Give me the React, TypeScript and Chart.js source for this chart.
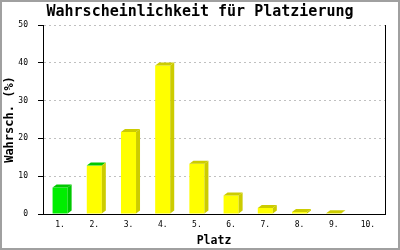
import React, { useEffect, useRef } from "react";
import { Chart, registerables } from "chart.js";

Chart.register(...registerables);

const categories = ["1.", "2.", "3.", "4.", "5.", "6.", "7.", "8.", "9.", "10."];
const values = [7.0, 12.8, 21.7, 39.3, 13.3, 4.9, 1.6, 0.5, 0.2, 0];
const frontColors = ["#00ee00", "#ffff00", "#ffff00", "#ffff00", "#ffff00", "#ffff00", "#ffff00", "#ffff00", "#ffff00", "#ffff00"];
const sideColors = ["#00c800", "#cccc00", "#cccc00", "#cccc00", "#cccc00", "#cccc00", "#cccc00", "#cccc00", "#cccc00", "#cccc00"];
const topColors = ["#00c800", "#00c800", "#cccc00", "#cccc00", "#cccc00", "#cccc00", "#cccc00", "#cccc00", "#cccc00", "#cccc00"];

const MONO = "'DejaVu Sans Mono', 'Liberation Mono', monospace";

const bar3d = {
  id: "bar3d",
  afterDatasetsDraw(chart: any) {
    const ctx = chart.ctx;
    const meta = chart.getDatasetMeta(0);
    const dx = 4;
    const dy = 3;
    meta.data.forEach((el: any, i: number) => {
      const { x, y, base, width } = el.getProps(["x", "y", "base", "width"], true);
      if (Math.abs(base - y) < 0.01) return;
      const l = x - width / 2;
      const r = x + width / 2;
      ctx.save();
      ctx.fillStyle = topColors[i];
      ctx.beginPath();
      ctx.moveTo(l, y);
      ctx.lineTo(l + dx, y - dy);
      ctx.lineTo(r + dx, y - dy);
      ctx.lineTo(r, y);
      ctx.closePath();
      ctx.fill();
      ctx.fillStyle = sideColors[i];
      ctx.beginPath();
      ctx.moveTo(r, y);
      ctx.lineTo(r + dx, y - dy);
      ctx.lineTo(r + dx, base - dy);
      ctx.lineTo(r, base);
      ctx.closePath();
      ctx.fill();
      ctx.restore();
    });
  },
  afterDraw(chart: any) {
    const ctx = chart.ctx;
    ctx.save();
    ctx.strokeStyle = "#a0a0a0";
    ctx.lineWidth = 2;
    ctx.strokeRect(1, 1, chart.width - 2, chart.height - 2);
    ctx.restore();
  },
};

export default function App() {
  const ref = useRef<HTMLCanvasElement | null>(null);
  useEffect(() => {
    document.body.style.margin = "0";
    const chart = new Chart(ref.current as HTMLCanvasElement, {
      type: "bar",
      data: {
        labels: categories,
        datasets: [
          {
            data: values,
            backgroundColor: frontColors,
            borderWidth: 0,
            categoryPercentage: 1,
            barPercentage: 0.44,
          },
        ],
      },
      options: {
        animation: false,
        responsive: false,
        layout: { padding: 0 },
        plugins: {
          legend: { display: false },
          tooltip: { enabled: false },
          title: {
            display: true,
            text: "Wahrscheinlichkeit für Platzierung",
            color: "#000",
            font: { family: MONO, size: 15, weight: "bold" },
            padding: { top: 3.5, bottom: 3.5 },
          },
        },
        scales: {
          x: {
            grid: { display: false, drawTicks: false },
            border: { display: true, color: "#000", width: 1 },
            ticks: { color: "#000", font: { family: MONO, size: 8 }, padding: 6, maxRotation: 0 },
            title: {
              display: true,
              text: "Platz",
              color: "#000",
              font: { family: MONO, size: 11.5, weight: "bold" },
              padding: { top: 0, bottom: 2.5 },
            },
            afterFit(scale: any) {
              scale.height = 36;
            },
          },
          y: {
            min: 0,
            max: 50,
            ticks: { stepSize: 10, color: "#000", font: { family: MONO, size: 8 }, padding: 10 },
            grid: {
              color: (c: any) => (c.tick && c.tick.value === 0 ? "rgba(0,0,0,0)" : "#c0c0c0"),
              tickColor: "#000",
              tickLength: 5,
              tickBorderDash: [],
              lineWidth: 1,
            },
            border: { display: true, color: "#000", width: 1, dash: [2, 3] },
            title: {
              display: true,
              text: "Wahrsch. (%)",
              color: "#000",
              font: { family: MONO, size: 12, weight: "bold" },
              padding: { top: 2.5, bottom: 0 },
            },
            afterFit(scale: any) {
              scale.width = 43;
            },
          },
          y2: {
            position: "right",
            min: 0,
            max: 50,
            grid: { display: false, drawTicks: false },
            ticks: { display: false },
            border: { display: true, color: "#000", width: 1 },
            afterFit(scale: any) {
              scale.width = 15;
            },
          },
        },
      },
      plugins: [bar3d],
    });
    return () => chart.destroy();
  }, []);
  return <canvas ref={ref} width={400} height={250} style={{ display: "block", width: 400, height: 250 }} />;
}
